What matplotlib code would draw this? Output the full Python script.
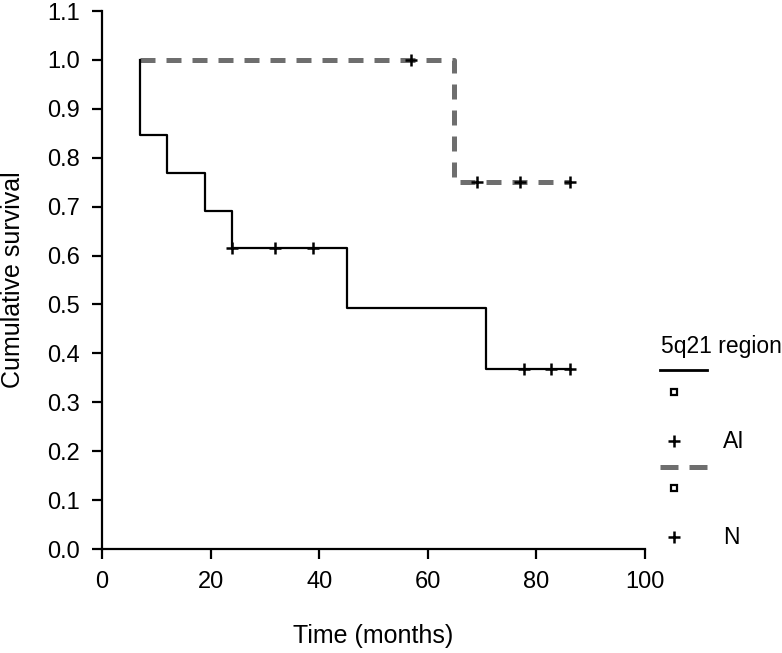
import matplotlib.pyplot as plt
from matplotlib.lines import Line2D

plt.rcParams['font.family'] = ['Liberation Sans', 'DejaVu Sans']

# Kaplan-Meier, grupa AI (linia ciagla)
ai_event_time = [7.0, 11.9, 19.0, 24.0, 45.1, 70.8]
ai_surv = [0.846, 0.769, 0.692, 0.615, 0.492, 0.369]
ai_last = 86.1
ai_cens_time = [24.0, 31.9, 38.9, 77.8, 82.7, 86.1]
ai_cens_surv = [0.615, 0.615, 0.615, 0.369, 0.369, 0.369]

# grupa N (linia przerywana)
n_event_time = [64.8]
n_surv = [0.75]
n_last = 86.1
n_cens_time = [56.9, 69.0, 77.0, 86.1]
n_cens_surv = [1.0, 0.75, 0.75, 0.75]

xticks = [0, 20, 40, 60, 80, 100]
yticks = [0.0, 0.1, 0.2, 0.3, 0.4, 0.5, 0.6, 0.7, 0.8, 0.9, 1.0, 1.1]

gray = '#6e6e6e'

fig = plt.figure(figsize=(7.82, 6.53), dpi=100)
W, H = 782.0, 653.0
ax = fig.add_axes([102 / W, 1 - 549 / H, 543 / W, 538 / H])

# krzywe schodkowe
ai_x = [ai_event_time[0]] + ai_event_time + [ai_last]
ai_y = [1.0] + ai_surv + [ai_surv[-1]]
ax.step(ai_x, ai_y, where='post', color='black', lw=1.6, zorder=3)

n_x = [ai_event_time[0]] + n_event_time + [n_last]
n_y = [1.0] + n_surv + [n_surv[-1]]
ax.step(n_x, n_y, where='post', color=gray, lw=3.6,
        linestyle=(0, (3.0, 2.2)), dash_capstyle='butt', zorder=2)

# obserwacje ucięte
ax.plot(ai_cens_time, ai_cens_surv, '+', color='black', ms=9, mew=1.8, zorder=4)
ax.plot(n_cens_time, n_cens_surv, '+', color='black', ms=9, mew=1.8, zorder=4)

ax.set_xlim(0, 100)
ax.set_ylim(0, 1.1)
ax.set_xticks(xticks)
ax.set_yticks(yticks)
ax.set_yticklabels(['%.1f' % v for v in yticks])
ax.tick_params(direction='out', length=7, width=1.6, labelsize=17, pad=9)
for s in ['top', 'right']:
    ax.spines[s].set_visible(False)
for s in ['left', 'bottom']:
    ax.spines[s].set_linewidth(1.6)


def fx(px):
    return px / W


def fy(py):
    return 1 - py / H


fig.text(fx(373), fy(636), 'Time (months)', fontsize=18, ha='center', va='center')
fig.text(fx(13), fy(280), 'Cumulative survival', fontsize=18, rotation=90,
         ha='center', va='center')

# legenda po prawej stronie
fig.text(fx(661), fy(346), '5q21 region', fontsize=16.5, va='center', ha='left')
fig.add_artist(Line2D([fx(660), fx(707)], [fy(370), fy(370)], color='black', lw=2))
fig.add_artist(Line2D([fx(674)], [fy(392)], marker='s', ms=5, mfc='white', mec='black', mew=1.6))
fig.add_artist(Line2D([fx(674)], [fy(441)], marker='+', ms=9, color='black', mew=1.8))
fig.text(fx(723), fy(441), 'AI', fontsize=16.5, va='center', ha='left')
fig.add_artist(Line2D([fx(660), fx(707)], [fy(467), fy(467)], color=gray, lw=3.6,
                      linestyle=(0, (3.6, 2.2)), dash_capstyle='butt'))
fig.add_artist(Line2D([fx(674)], [fy(488)], marker='s', ms=5, mfc='white', mec='black', mew=1.6))
fig.add_artist(Line2D([fx(674)], [fy(537)], marker='+', ms=9, color='black', mew=1.8))
fig.text(fx(723), fy(537), 'N', fontsize=16.5, va='center', ha='left')

fig.savefig('out.png', dpi=100)
